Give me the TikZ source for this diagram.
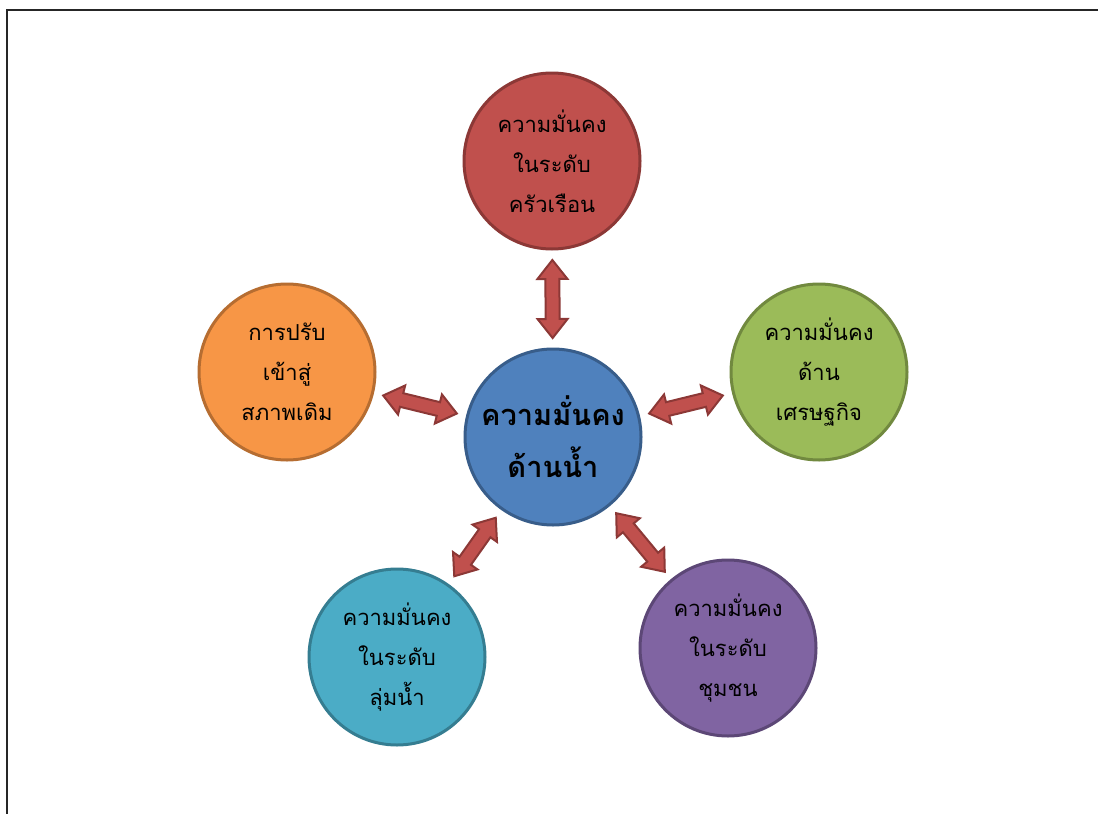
\documentclass[tikz,border=0pt]{standalone}
\usepackage{fontspec}
\newfontfamily\thai[Script=Thai]{Loma}
\usetikzlibrary{calc}
\definecolor{cred}{HTML}{C0504D}\definecolor{credd}{HTML}{8C3836}
\definecolor{cblue}{HTML}{4F81BD}\definecolor{cblued}{HTML}{385D8A}
\definecolor{cgreen}{HTML}{9BBB59}\definecolor{cgreend}{HTML}{71893F}
\definecolor{corange}{HTML}{F79646}\definecolor{corange2}{HTML}{B66D31}
\definecolor{cteal}{HTML}{4BACC6}\definecolor{cteald}{HTML}{357D91}
\definecolor{cpurple}{HTML}{8064A2}\definecolor{cpurpled}{HTML}{5C4776}
\tikzset{
  bubble/.style={circle, minimum size=176pt, inner sep=0pt, line width=3pt, align=center,
    font=\thai\fontsize{22}{40}\selectfont, text=black},
  bigbubble/.style={bubble, font=\thai\bfseries\fontsize{29}{52}\selectfont},
  barrow/.style={fill=cred, draw=credd, line width=2pt, line join=miter},
}
\newcommand\blockarrow[2]{%
  \coordinate (s) at ($(#1)!99pt!(#2)$);
  \coordinate (e) at ($(#2)!99pt!(#1)$);
  \coordinate (h1) at ($(s)!19pt!(e)$);
  \coordinate (h2) at ($(e)!19pt!(s)$);
  \draw[barrow] (s) -- ($(h1)!15pt!90:(e)$) -- ($(h1)!7pt!90:(e)$) -- ($(h2)!7pt!-90:(s)$)
    -- ($(h2)!15pt!-90:(s)$) -- (e) -- ($(h2)!15pt!90:(s)$) -- ($(h2)!7pt!90:(s)$)
    -- ($(h1)!7pt!-90:(e)$) -- ($(h1)!15pt!-90:(e)$) -- cycle;
}
\begin{document}
\begin{tikzpicture}[x=1pt,y=-1pt]
\useasboundingbox (0,0) rectangle (1098,814);
\draw[line width=2pt, black!85] (7,814) -- (7,10) -- (1100,10);
\node[bigbubble, fill=cblue, draw=cblued] (c) at (553,437) {ความมั่นคง\\ด้านน้ำ};
\node[bubble, fill=cred, draw=credd] (t) at (552,161) {ความมั่นคง\\ในระดับ\\ครัวเรือน};
\node[bubble, fill=cgreen, draw=cgreend] (r) at (819,372) {ความมั่นคง\\ด้าน\\เศรษฐกิจ};
\node[bubble, fill=corange, draw=corange2] (l) at (287,372) {การปรับ\\เข้าสู่\\สภาพเดิม};
\node[bubble, fill=cteal, draw=cteald] (bl) at (397,657) {ความมั่นคง\\ในระดับ\\ลุ่มน้ำ};
\node[bubble, fill=cpurple, draw=cpurpled] (br) at (728,648) {ความมั่นคง\\ในระดับ\\ชุมชน};
\blockarrow{c}{t}
\blockarrow{c}{r}
\blockarrow{c}{l}
\blockarrow{c}{bl}
\blockarrow{c}{br}
\end{tikzpicture}
\end{document}
